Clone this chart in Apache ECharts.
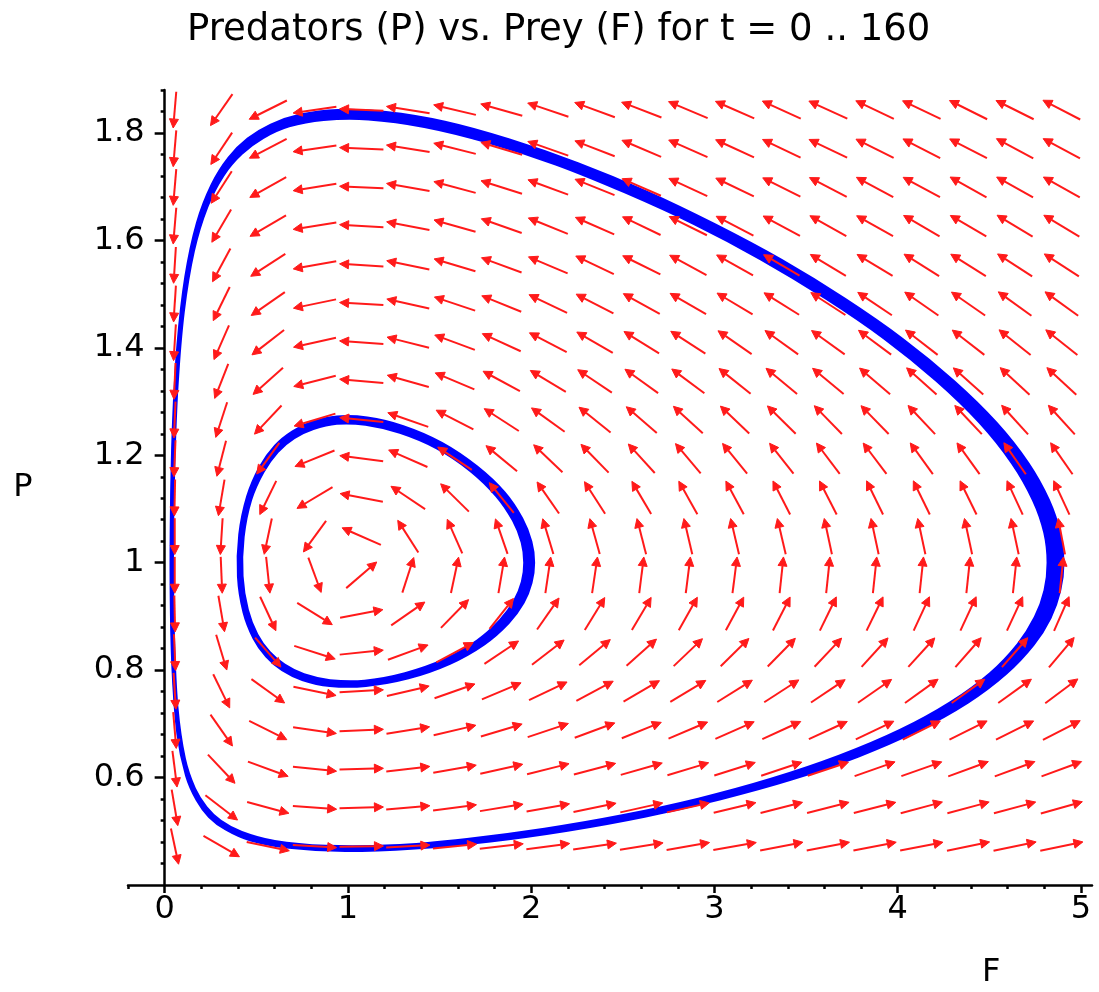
<!DOCTYPE html>
<html><head><meta charset="utf-8">
<script src="https://cdn.jsdelivr.net/npm/echarts@6/dist/echarts.min.js"></script>
<style>html,body{margin:0;padding:0;background:#fff}#c{width:1099px;height:992px}</style>
</head><body><div id="c"></div>
<script>
// Direction-field grid (F columns, P rows, bottom row first)
const cols = [0.055,0.310,0.564,0.819,1.074,1.328,1.583,1.838,2.092,2.347,2.602,2.856,3.111,3.366,3.620,3.875,4.130,4.385,4.639,4.894];
const rows = [0.472,0.544,0.616,0.688,0.761,0.833,0.905,0.977,1.049,1.121,1.194,1.266,1.338,1.410,1.482,1.554,1.627,1.699,1.771,1.843];
// Arrow directions (degrees, measured in grid-cell units), one list per row
const ANG = [
[-80,-35,-14,-4,1,4,7,8,9,10,11,12,12,13,13,13,13,14,14,14],
[-82,-43,-18,-5,2,6,9,11,12,14,15,15,16,17,17,17,18,18,18,19],
[-84,-52,-24,-7,2,8,12,15,17,18,19,20,21,22,22,23,23,24,24,24],
[-86,-60,-31,-10,3,11,16,20,22,24,26,27,28,29,29,30,31,31,31,32],
[-87,-68,-41,-14,4,16,23,27,30,33,35,36,37,38,39,40,41,41,41,42],
[-88,-76,-54,-21,7,24,33,39,43,45,47,49,50,51,52,53,53,54,54,55],
[-89,-82,-69,-37,13,40,51,57,60,63,64,65,66,67,68,68,69,69,69,70],
[-90,-88,-85,-73,46,75,80,82,83,83,84,84,84,85,85,85,85,85,85,85],
[-90,-93,-100,-121,152,118,110,106,104,103,102,101,101,101,100,100,100,100,100,99],
[-91,-98,-112,-144,167,141,130,124,120,118,116,115,114,113,113,112,112,112,111,111],
[-92,-102,-121,-154,171,152,141,135,131,129,127,125,124,123,122,122,121,121,120,120],
[-92,-105,-128,-160,173,157,148,142,139,136,134,132,131,130,129,129,128,128,127,127],
[-92,-108,-133,-163,174,161,153,147,144,141,139,138,136,135,135,134,133,133,132,132],
[-93,-110,-137,-165,175,163,156,151,148,145,143,142,140,139,139,138,137,137,136,136],
[-93,-112,-140,-166,176,165,158,154,150,148,146,145,144,143,142,141,140,140,139,139],
[-93,-114,-142,-168,176,166,160,156,153,150,149,147,146,145,144,144,143,143,142,142],
[-94,-116,-145,-169,176,167,161,157,154,152,150,149,148,147,146,146,145,145,144,144],
[-94,-118,-146,-169,177,168,162,159,156,154,152,151,150,149,148,147,147,146,146,146],
[-94,-119,-148,-170,177,169,163,160,157,155,153,152,151,150,150,149,148,148,147,147],
[-94,-120,-149,-170,177,169,164,161,158,156,155,153,152,151,151,150,150,149,149,148]
];
// Solution curves [F, P]: inner and outer edge of each drawn orbit band
const INNER_LO = [[1.966,1.000],[1.952,1.038],[1.904,1.079],[1.812,1.125],[1.670,1.172],[1.486,1.214],[1.285,1.243],[1.097,1.258],[0.939,1.260],[0.810,1.250],[0.705,1.233],[0.614,1.207],[0.535,1.169],[0.468,1.117],[0.427,1.048],[0.421,0.975],[0.450,0.912],[0.502,0.866],[0.570,0.833],[0.653,0.809],[0.759,0.791],[0.902,0.780],[1.091,0.779],[1.312,0.793],[1.529,0.819],[1.707,0.854],[1.832,0.892],[1.911,0.929],[1.953,0.964]];
const INNER_HI = [[2.012,1.000],[1.997,1.039],[1.947,1.082],[1.852,1.130],[1.703,1.178],[1.511,1.222],[1.301,1.253],[1.105,1.269],[0.940,1.271],[0.807,1.261],[0.698,1.243],[0.605,1.217],[0.523,1.178],[0.454,1.123],[0.411,1.052],[0.404,0.974],[0.434,0.908],[0.488,0.860],[0.557,0.826],[0.643,0.801],[0.752,0.783],[0.901,0.772],[1.098,0.772],[1.329,0.786],[1.555,0.813],[1.742,0.849],[1.873,0.888],[1.955,0.926],[1.998,0.963]];
const OUTER_LO = [[4.823,1.000],[4.805,1.056],[4.743,1.117],[4.628,1.186],[4.450,1.262],[4.214,1.340],[3.928,1.419],[3.607,1.494],[3.257,1.566],[2.891,1.632],[2.513,1.691],[2.136,1.743],[1.765,1.784],[1.418,1.813],[1.112,1.827],[0.867,1.826],[0.678,1.814],[0.534,1.792],[0.416,1.762],[0.317,1.722],[0.228,1.663],[0.154,1.580],[0.099,1.467],[0.065,1.330],[0.047,1.179],[0.040,1.022],[0.045,0.868],[0.064,0.732],[0.105,0.635],[0.160,0.579],[0.224,0.544],[0.304,0.518],[0.419,0.497],[0.600,0.480],[0.879,0.471],[1.244,0.472],[1.650,0.484],[2.073,0.503],[2.497,0.528],[2.913,0.559],[3.310,0.596],[3.682,0.639],[4.014,0.687],[4.291,0.739],[4.507,0.793],[4.658,0.847],[4.753,0.898],[4.806,0.948]];
const OUTER_HI = [[4.899,1.000],[4.881,1.054],[4.820,1.116],[4.707,1.185],[4.536,1.259],[4.303,1.337],[4.024,1.415],[3.708,1.490],[3.364,1.562],[3.002,1.628],[2.629,1.689],[2.253,1.742],[1.880,1.786],[1.528,1.819],[1.208,1.837],[0.944,1.841],[0.737,1.832],[0.581,1.814],[0.456,1.788],[0.353,1.753],[0.261,1.703],[0.181,1.632],[0.118,1.532],[0.075,1.405],[0.051,1.261],[0.040,1.107],[0.038,0.951],[0.048,0.803],[0.075,0.681],[0.122,0.604],[0.179,0.559],[0.246,0.528],[0.335,0.505],[0.467,0.485],[0.679,0.471],[0.986,0.465],[1.366,0.470],[1.777,0.483],[2.198,0.503],[2.618,0.529],[3.027,0.561],[3.419,0.598],[3.784,0.641],[4.107,0.689],[4.380,0.741],[4.590,0.795],[4.737,0.848],[4.829,0.898],[4.881,0.948]];
// Tick values
const X_MAJOR = [0,1,2,3,4,5];
const X_MINOR = [-0.2,0.2,0.4,0.6,0.8,1.2,1.4,1.6,1.8,2.2,2.4,2.6,2.8,3.2,3.4,3.6,3.8,4.2,4.4,4.6,4.8];
const Y_MAJOR = [0.6,0.8,1,1.2,1.4,1.6,1.8];
const Y_MINOR = [0.44,0.48,0.52,0.56,0.64,0.68,0.72,0.76,0.84,0.88,0.92,0.96,1.04,1.08,1.12,1.16,1.24,1.28,1.32,1.36,1.44,1.48,1.52,1.56,1.64,1.68,1.72,1.76,1.84,1.88];

const RED = '#ff1a1a', BLUE = '#0000ff', FONT = 'DejaVu Sans, sans-serif';
const dF = cols[1] - cols[0], dP = rows[1] - rows[0];
const HALF = 0.47;
const X_MIN = -0.2, X_MAX = 5.06, GRID_L = 128, GRID_R = 7;
const Y_OFFSET = -(0 - X_MIN) / (X_MAX - X_MIN) * (1099 - GRID_L - GRID_R); // y axis sits at F = 0

const field = [];
rows.forEach((P, j) => cols.forEach((F, i) => field.push([F, P, ANG[j][i]])));

function ring(hi, lo, w) {
  return function (params, api) {
    const a = hi.map(q => api.coord(q)), b = lo.map(q => api.coord(q));
    return {type: 'group', children: [
      {type: 'polygon', shape: {points: a, smooth: 0.35}, style: {fill: BLUE, stroke: BLUE, lineWidth: w}},
      {type: 'polygon', shape: {points: b, smooth: 0.35}, style: {fill: '#fff', stroke: null}},
      {type: 'polygon', shape: {points: b, smooth: 0.35}, style: {fill: null, stroke: BLUE, lineWidth: w}}
    ]};
  };
}

const chart = echarts.init(document.getElementById('c'), null, {renderer: 'canvas'});
const xBase = {type: 'value', min: X_MIN, max: X_MAX, position: 'bottom', splitLine: {show: false}};
const yBase = {type: 'value', min: 0.4, max: 1.88, position: 'left', offset: Y_OFFSET, splitLine: {show: false}};
chart.setOption({
  animation: false,
  backgroundColor: '#fff',
  title: {text: 'Predators (P) vs. Prey (F) for t = 0 .. 160', left: 182, top: 7,
    textStyle: {fontFamily: FONT, fontSize: 37, fontWeight: 'normal', color: '#000'}},
  grid: {left: GRID_L, right: GRID_R, top: 90, bottom: 107, containLabel: false, outerBoundsMode: 'none'},
  xAxis: [
    Object.assign({}, xBase, {
      axisLine: {show: true, onZero: false, lineStyle: {color: '#000', width: 2.5}},
      axisTick: {show: true, customValues: X_MAJOR, length: 8, lineStyle: {color: '#000', width: 2.5}},
      axisLabel: {show: true, customValues: X_MAJOR, margin: 9, fontSize: 32, fontFamily: FONT, color: '#000',
        formatter: v => String(v)}
    }),
    Object.assign({}, xBase, {
      axisLine: {show: false, onZero: false},
      axisTick: {show: true, customValues: X_MINOR, length: 4, lineStyle: {color: '#000', width: 2.5}},
      axisLabel: {show: false}
    })
  ],
  yAxis: [
    Object.assign({}, yBase, {
      name: 'P', nameLocation: 'middle', nameRotate: 0, nameGap: 132,
      nameTextStyle: {fontFamily: FONT, fontSize: 32, color: '#000'},
      axisLine: {show: true, onZero: false, lineStyle: {color: '#000', width: 2.5}},
      axisTick: {show: true, customValues: Y_MAJOR, length: 10, lineStyle: {color: '#000', width: 2.5}},
      axisLabel: {show: true, customValues: Y_MAJOR, margin: 20, fontSize: 32, fontFamily: FONT, color: '#000',
        formatter: v => String(+(+v).toFixed(1))}
    }),
    Object.assign({}, yBase, {
      axisLine: {show: false, onZero: false},
      axisTick: {show: true, customValues: Y_MINOR, length: 4, lineStyle: {color: '#000', width: 2.5}},
      axisLabel: {show: false}
    })
  ],
  graphic: [{type: 'text', left: 982, top: 957, style: {text: 'F', font: '32px ' + FONT, fill: '#000'}}],
  series: [
    {type: 'custom', data: [[0, 1]], xAxisIndex: 0, yAxisIndex: 0, z: 2, silent: true, renderItem: ring(OUTER_HI, OUTER_LO, 4)},
    {type: 'custom', data: [[0, 1]], xAxisIndex: 0, yAxisIndex: 0, z: 2, silent: true, renderItem: ring(INNER_HI, INNER_LO, 3.5)},
    {type: 'custom', data: field, xAxisIndex: 0, yAxisIndex: 0, z: 3, silent: true,
      encode: {x: 0, y: 1},
      renderItem: function (params, api) {
        const F = api.value(0), P = api.value(1), a = api.value(2) * Math.PI / 180;
        const ex = Math.cos(a) * HALF * dF, ey = Math.sin(a) * HALF * dP;
        const tail = api.coord([F - ex, P - ey]), tip = api.coord([F + ex, P + ey]);
        const vx = tip[0] - tail[0], vy = tip[1] - tail[1];
        const L = Math.hypot(vx, vy) || 1, ux = vx / L, uy = vy / L;
        const hl = 9, hw = 4.5;
        const bx = tip[0] - ux * hl, by = tip[1] - uy * hl;
        return {type: 'group', children: [
          {type: 'line', shape: {x1: tail[0], y1: tail[1], x2: bx, y2: by}, style: {stroke: RED, lineWidth: 2}},
          {type: 'polygon', shape: {points: [tip, [bx - uy * hw, by + ux * hw], [bx + uy * hw, by - ux * hw]]},
            style: {fill: RED, stroke: RED, lineWidth: 1}}
        ]};
      }
    }
  ]
});
</script></body></html>
